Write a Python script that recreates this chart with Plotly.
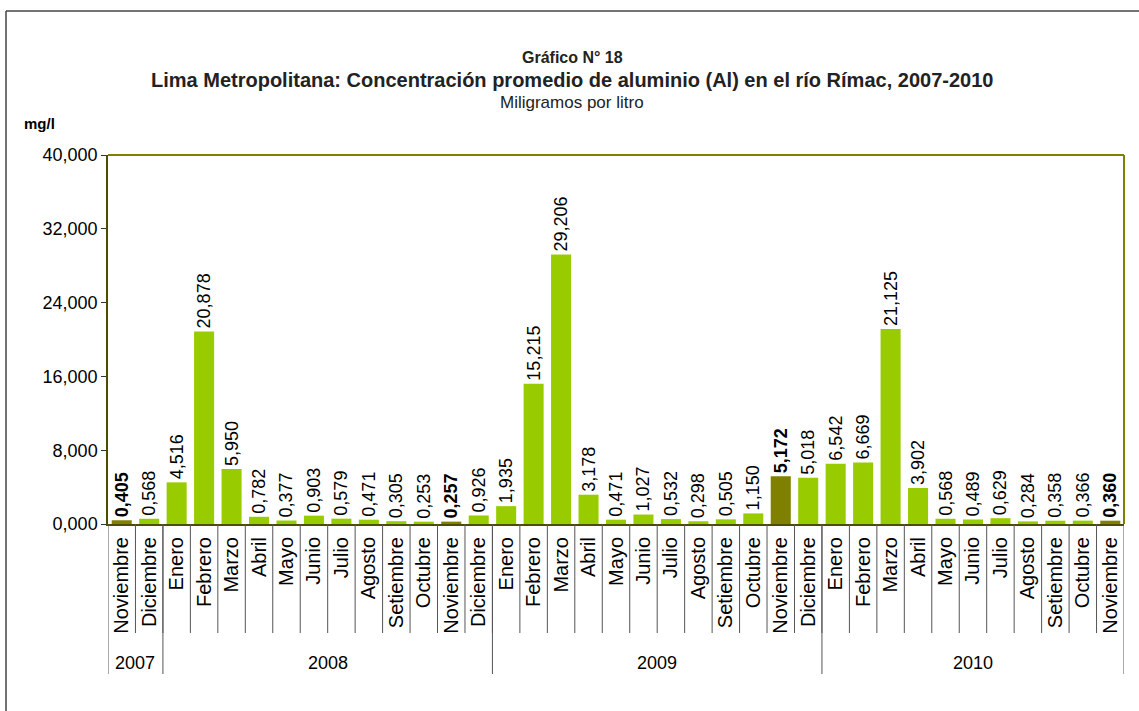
import plotly.graph_objects as go

# data
years = ['2007', '2008', '2009', '2010']
year_counts = [2, 12, 12, 11]
months = ['Noviembre', 'Diciembre',
          'Enero', 'Febrero', 'Marzo', 'Abril', 'Mayo', 'Junio', 'Julio', 'Agosto',
          'Setiembre', 'Octubre', 'Noviembre', 'Diciembre',
          'Enero', 'Febrero', 'Marzo', 'Abril', 'Mayo', 'Junio', 'Julio', 'Agosto',
          'Setiembre', 'Octubre', 'Noviembre', 'Diciembre',
          'Enero', 'Febrero', 'Marzo', 'Abril', 'Mayo', 'Junio', 'Julio', 'Agosto',
          'Setiembre', 'Octubre', 'Noviembre']
values = [0.405, 0.568,
          4.516, 20.878, 5.950, 0.782, 0.377, 0.903, 0.579, 0.471, 0.305, 0.253, 0.257, 0.926,
          1.935, 15.215, 29.206, 3.178, 0.471, 1.027, 0.532, 0.298, 0.505, 1.150, 5.172, 5.018,
          6.542, 6.669, 21.125, 3.902, 0.568, 0.489, 0.629, 0.284, 0.358, 0.366, 0.360]
y_ticks = [0, 8, 16, 24, 32, 40]

GREEN = '#99cc00'
OLIVE = '#808000'
FONT = 'Liberation Sans, Arial, sans-serif'

W, H = 1139, 711
L, R, T, B = 108, 15, 155, 187
pw, ph = W - L - R, H - T - B


def xp(px):
    return (px - L) / pw


def yp(py):
    return (H - B - py) / ph


n = len(values)
xs = list(range(n))
highlight = [m == 'Noviembre' for m in months]
colors = [OLIVE if h else GREEN for h in highlight]
templates = ['<b>%{y:.3f}</b>' if h else '%{y:.3f}' for h in highlight]

fig = go.Figure()
fig.add_trace(go.Bar(
    x=xs, y=values,
    marker=dict(color=colors, line=dict(width=0)),
    texttemplate=templates,
    textposition='outside',
    textangle=-90,
    constraintext='none',
    cliponaxis=False,
    textfont=dict(family=FONT, size=18, color='#000000'),
    hoverinfo='skip'
))

shapes = []
# month separators
for i in range(n - 1):
    shapes.append(dict(type='line', xref='x', yref='paper', x0=i + 0.5, x1=i + 0.5,
                       y0=0, y1=yp(633), line=dict(color='#555555', width=1)))
# year separators
bounds = [-0.5]
for c in year_counts:
    bounds.append(bounds[-1] + c)
for b in bounds:
    shapes.append(dict(type='line', xref='x', yref='paper', x0=b, x1=b,
                       y0=0, y1=yp(674), line=dict(color='#555555', width=1)))
# olive frame on top and right
shapes.append(dict(type='line', xref='paper', yref='paper', x0=0, x1=1, y0=1, y1=1,
                   line=dict(color=OLIVE, width=2)))
shapes.append(dict(type='line', xref='paper', yref='paper', x0=1, x1=1, y0=0, y1=1,
                   line=dict(color=OLIVE, width=2)))
# outer frame (top and left)
shapes.append(dict(type='line', xref='paper', yref='paper', x0=xp(6), x1=xp(W), y0=yp(11), y1=yp(11),
                   line=dict(color='#444444', width=1.5)))
shapes.append(dict(type='line', xref='paper', yref='paper', x0=xp(6), x1=xp(6), y0=yp(11), y1=yp(H),
                   line=dict(color='#444444', width=1.5)))

annotations = []
# year labels
for k, yr in enumerate(years):
    mid = (bounds[k] + bounds[k + 1]) / 2
    annotations.append(dict(text=yr, x=mid, y=yp(663), xref='x', yref='paper',
                            showarrow=False, yanchor='middle',
                            font=dict(family=FONT, size=18, color='#000000')))
# titles
annotations.append(dict(text='<b>Gráfico N° 18</b>', x=xp(572), y=yp(57), xref='paper', yref='paper',
                        showarrow=False, yanchor='middle',
                        font=dict(family=FONT, size=16, color='#222222')))
annotations.append(dict(text='<b>Lima Metropolitana: Concentración promedio de aluminio (Al) en el río Rímac, 2007-2010</b>',
                        x=xp(572), y=yp(80), xref='paper', yref='paper',
                        showarrow=False, yanchor='middle',
                        font=dict(family=FONT, size=20, color='#222222')))
annotations.append(dict(text='Miligramos por litro', x=xp(572), y=yp(102), xref='paper', yref='paper',
                        showarrow=False, yanchor='middle',
                        font=dict(family=FONT, size=17, color='#222222')))
annotations.append(dict(text='<b>mg/l</b>', x=xp(22), y=yp(123), xref='paper', yref='paper',
                        xanchor='left', yanchor='middle', showarrow=False,
                        font=dict(family=FONT, size=15, color='#000000')))

fig.update_layout(
    width=W, height=H,
    margin=dict(l=L, r=R, t=T, b=B),
    paper_bgcolor='white', plot_bgcolor='white',
    separators=',.',
    showlegend=False,
    bargap=0.27,
    shapes=shapes,
    annotations=annotations,
    xaxis=dict(
        tickmode='array', tickvals=xs, ticktext=months,
        tickangle=-90, range=[-0.5, n - 0.5],
        showgrid=False, zeroline=False, showline=True, linecolor='#4d4d00', linewidth=2,
        ticks='', ticklabelstandoff=3,
        tickfont=dict(family=FONT, size=20, color='#000000')
    ),
    yaxis=dict(
        range=[0, 40], tickvals=y_ticks, tickformat='.3f',
        showgrid=False, zeroline=False, showline=True, linecolor='#4d4d00', linewidth=1.5,
        ticks='outside', ticklen=5, tickcolor='#333333',
        tickfont=dict(family=FONT, size=18, color='#000000')
    )
)

fig.write_html('out.html', config={'displayModeBar': False},
               post_script="document.body.style.margin='0';")
